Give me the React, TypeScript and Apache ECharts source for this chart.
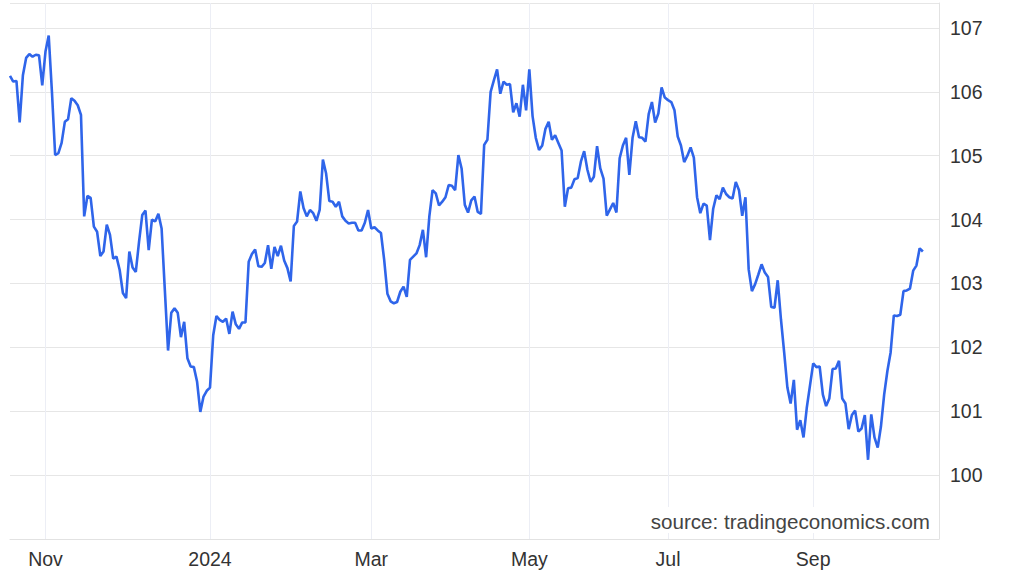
import React, { useEffect, useRef } from "react";
import * as echarts from "echarts";

// Daily index values (oldest first)
const values: number[] = [
  106.25, 106.16, 106.17, 105.52, 106.26, 106.53, 106.59, 106.55, 106.58, 106.57,
  106.10, 106.63, 106.88, 106.0, 105.01, 105.04, 105.2, 105.53, 105.57, 105.9,
  105.86, 105.79, 105.64, 104.05, 104.37, 104.34, 103.89, 103.81, 103.43, 103.5,
  103.92, 103.76, 103.39, 103.42, 103.21, 102.85, 102.77, 103.5, 103.25, 103.18,
  103.65, 104.07, 104.14, 103.52, 104.0, 103.97, 104.09, 103.86, 102.9, 101.95,
  102.54, 102.61, 102.54, 102.16, 102.4, 101.83, 101.7, 101.69, 101.46, 100.99,
  101.23, 101.32, 101.37, 102.19, 102.49, 102.43, 102.4, 102.45, 102.21, 102.56,
  102.36, 102.29, 102.39, 102.39, 103.34, 103.46, 103.53, 103.27, 103.26, 103.32,
  103.6, 103.23, 103.57, 103.43, 103.59, 103.36, 103.24, 103.03, 103.9, 103.97,
  104.44, 104.18, 104.05, 104.15, 104.1, 103.98, 104.15, 104.94, 104.72, 104.29,
  104.28, 104.2, 104.28, 104.05, 103.98, 103.94, 103.95, 103.95, 103.83, 103.83,
  103.95, 104.15, 103.86, 103.88, 103.83, 103.79, 103.37, 102.84, 102.72, 102.69,
  102.71, 102.87, 102.95, 102.79, 103.37, 103.42, 103.47, 103.6, 103.84, 103.41,
  104.05, 104.46, 104.41, 104.22, 104.28, 104.35, 104.54, 104.53, 104.46, 105.01,
  104.8, 104.23, 104.11, 104.3, 104.36, 104.12, 104.09, 105.17, 105.25, 106.0,
  106.18, 106.35, 105.97, 106.16, 106.11, 106.12, 105.68, 105.82, 105.61, 106.11,
  105.71, 106.35, 105.62, 105.28, 105.09, 105.16, 105.42, 105.53, 105.25, 105.32,
  105.2, 105.08, 104.2, 104.49, 104.5, 104.63, 104.65, 104.91, 105.07, 104.78,
  104.59, 104.67, 105.15, 104.8, 104.64, 104.06, 104.16, 104.26, 104.11, 104.96,
  105.16, 105.28, 104.7, 105.28, 105.54, 105.29, 105.28, 105.22, 105.65, 105.84,
  105.52, 105.66, 106.07, 105.91, 105.87, 105.84, 105.71, 105.3, 105.16, 104.9,
  105.0, 105.13, 104.97, 104.35, 104.1, 104.25, 104.22, 103.68, 104.17, 104.38,
  104.32, 104.5, 104.4, 104.35, 104.33, 104.59, 104.46, 104.06, 104.35, 103.22,
  102.88, 102.99, 103.14, 103.3, 103.17, 103.1, 102.63, 102.62, 103.05, 102.44,
  101.92, 101.37, 101.12, 101.49, 100.71, 100.86, 100.59, 101.05, 101.4, 101.75,
  101.69, 101.7, 101.26, 101.08, 101.2, 101.66, 101.67, 101.79, 101.2, 101.12,
  100.72, 100.94, 101.01, 100.68, 100.73, 100.94, 100.24, 100.95, 100.59, 100.43,
  100.76, 101.26, 101.63, 101.92, 102.5, 102.49, 102.51, 102.88, 102.89, 102.92,
  103.2, 103.28, 103.55, 103.5,
];

// x-axis month labels and the data point where each month starts
const monthLabels: string[] = ["Nov", "2024", "Mar", "May", "Jul", "Sep"];
const monthIndices: number[] = [11, 62, 112, 161, 204, 249];
const totalSlots = 289; // axis slots (data plus empty space on the right)

// y-axis
const yMin = 99;
const yMax = 107.39;
const yTickLabels: number[] = [100, 101, 102, 103, 104, 105, 106, 107];

const sourceText = "source: tradingeconomics.com";

export default function App() {
  const ref = useRef<HTMLDivElement>(null);

  useEffect(() => {
    if (!ref.current) return;
    const chart = echarts.init(ref.current, null, { renderer: "svg" });
    const categories = Array.from({ length: totalSlots }, (_, i) => {
      const k = monthIndices.indexOf(i);
      return k >= 0 ? monthLabels[k] : String(i);
    });
    const isMonth = (i: number) => monthIndices.indexOf(i) >= 0;
    const font = "'Liberation Sans', Arial, Helvetica, sans-serif";

    chart.setOption({
      animation: false,
      grid: { left: 10, right: 85, top: 3, bottom: 38, containLabel: false },
      xAxis: {
        type: "category",
        data: categories,
        boundaryGap: false,
        axisLine: { show: true, lineStyle: { color: "#e2e2e2", width: 1 } },
        axisTick: { show: false },
        axisLabel: {
          interval: (i: number) => isMonth(i),
          color: "#333",
          fontSize: 19.5,
          fontFamily: font,
          margin: 10,
        },
        splitLine: {
          show: true,
          interval: (i: number) => isMonth(i),
          lineStyle: { color: "#eceef5", width: 1 },
        },
      },
      yAxis: {
        type: "value",
        position: "right",
        min: yMin,
        max: yMax,
        interval: 1,
        axisLine: { show: true, lineStyle: { color: "#e2e2e2", width: 1 } },
        axisTick: { show: false },
        axisLabel: {
          color: "#333",
          fontSize: 19.5,
          fontFamily: font,
          margin: 11,
          formatter: (v: number) =>
            yTickLabels.indexOf(Math.round(v * 100) / 100) >= 0 ? String(v) : "",
        },
        splitLine: { show: true, lineStyle: { color: "#e6e6e6", width: 1 } },
      },
      series: [
        {
          type: "line",
          data: values,
          symbol: "none",
          smooth: false,
          lineStyle: { color: "#2f65ea", width: 2.6 },
        },
      ],
      graphic: [
        {
          type: "rect",
          shape: { x: 646, y: 507, width: 288, height: 26 },
          style: { fill: "#ffffff" },
          z: 10,
        },
        {
          type: "text",
          right: 94,
          top: 511,
          style: {
            text: sourceText,
            fill: "#444",
            font: `20.6px ${font}`,
          },
          z: 11,
        },
      ],
    });
    return () => chart.dispose();
  }, []);

  return (
    <div
      ref={ref}
      style={{ position: "absolute", left: 0, top: 0, width: 1024, height: 577, background: "#fff" }}
    />
  );
}
